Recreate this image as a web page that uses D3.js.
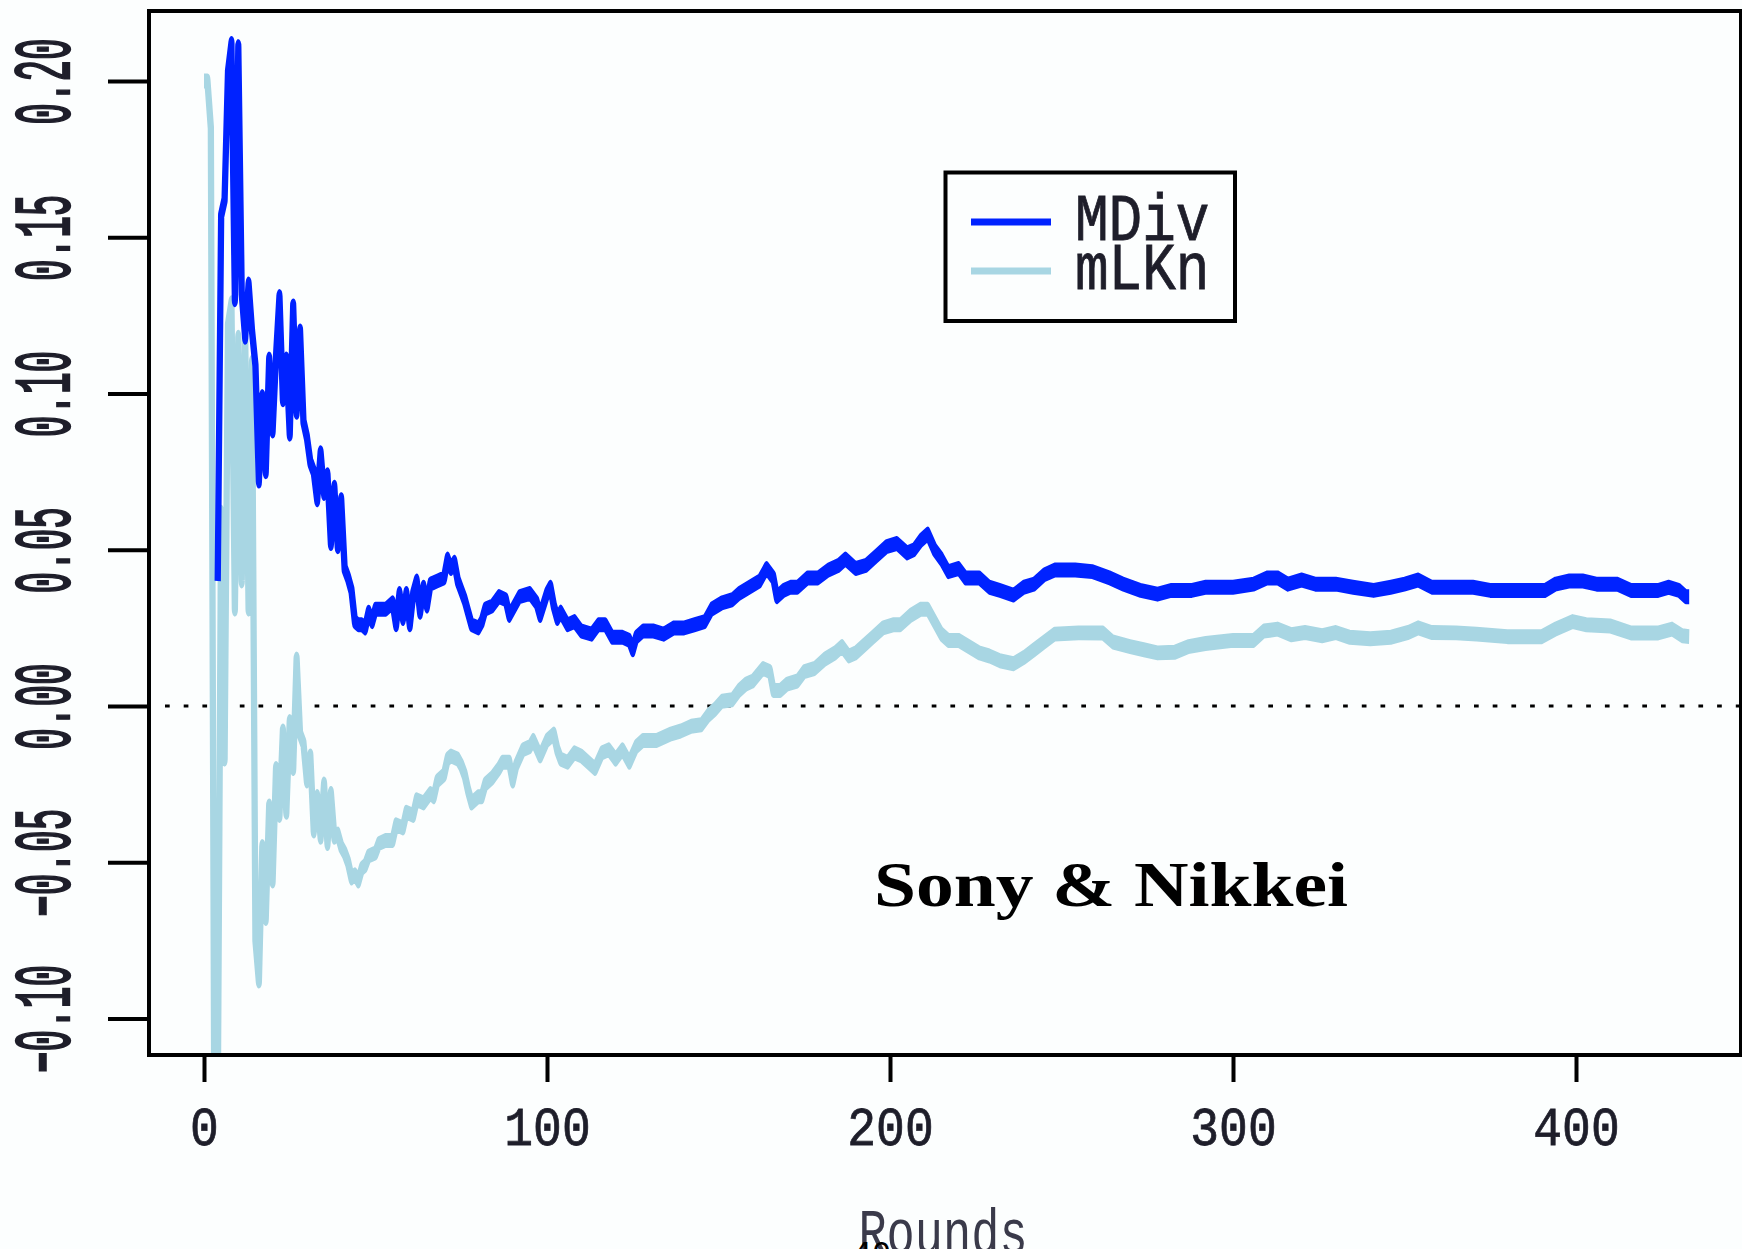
<!DOCTYPE html>
<html lang="en">

<head>
    <meta charset="UTF-8">
    <title>Sony &amp; Nikkei - MDiv vs mLKn</title>
    <script src="https://d3js.org/d3.v7.min.js"></script>
    <style>
        body {
            margin: 0;
            background: #fcfefe;
        }

        svg {
            display: block;
        }

        .mono {
            font-family: "Liberation Mono", "DejaVu Sans Mono", monospace;
            fill: #1e1e2a;
            stroke: #1e1e2a;
            stroke-width: 0.7px;
        }
    </style>
</head>

<body>
    <script>
        // values
        const mdivRounds = [4, 5, 6, 7, 8, 9, 10, 11, 12, 13, 14, 15, 16, 17, 18, 19, 20, 21, 22, 23, 24, 25, 26, 27, 28, 29,
            30, 31, 32, 33, 34, 35, 36, 37, 38, 39, 40, 41, 42, 43, 44, 45, 46, 47, 48, 49, 50, 51, 53, 55, 56, 57, 58, 59,
            60, 61, 62, 63, 64, 65, 66, 68, 70, 71, 72, 73, 74, 75, 76, 77, 78, 80, 81, 82, 84, 86, 88, 89, 90, 92, 95, 97,
            98, 100, 101, 102, 103, 104, 106, 108, 110, 113, 115, 117, 119, 122, 124, 125, 126, 128, 131, 134, 137, 140,
            143, 146, 148, 151, 154, 156, 159, 162, 164, 166, 167, 169, 171, 173, 176, 179, 182, 185, 187, 190, 193, 196,
            199, 202, 205, 207, 209, 211, 213, 215, 217, 220, 222, 226, 229, 232, 236, 239, 242, 245, 248, 254, 259, 264,
            268, 273, 278, 282, 288, 292, 300, 306, 310, 313, 316, 320, 324, 330, 335, 341, 346, 350, 354, 358, 365, 370,
            375, 385, 391, 394, 398, 402, 406, 412, 416, 424, 427, 430, 432, 433];
        const mdivValues = [0.040, 0.157, 0.162, 0.203, 0.212, 0.130, 0.211, 0.132, 0.118, 0.135, 0.120, 0.109, 0.072, 0.099,
            0.075, 0.111, 0.088, 0.112, 0.131, 0.098, 0.111, 0.087, 0.128, 0.094, 0.120, 0.091, 0.086, 0.078, 0.075, 0.066,
            0.081, 0.068, 0.074, 0.052, 0.070, 0.051, 0.066, 0.044, 0.041, 0.037, 0.027, 0.026, 0.026, 0.025, 0.030, 0.027,
            0.031, 0.031, 0.031, 0.033, 0.026, 0.036, 0.028, 0.036, 0.026, 0.036, 0.040, 0.030, 0.038, 0.032, 0.039, 0.040,
            0.041, 0.047, 0.044, 0.046, 0.040, 0.037, 0.034, 0.030, 0.026, 0.025, 0.027, 0.031, 0.032, 0.035, 0.034, 0.029,
            0.031, 0.035, 0.036, 0.033, 0.029, 0.036, 0.038, 0.032, 0.028, 0.030, 0.026, 0.027, 0.024, 0.023, 0.026, 0.026,
            0.022, 0.022, 0.021, 0.018, 0.022, 0.024, 0.024, 0.023, 0.025, 0.025, 0.026, 0.027, 0.031, 0.033, 0.034, 0.036,
            0.038, 0.040, 0.044, 0.041, 0.035, 0.037, 0.038, 0.038, 0.041, 0.041, 0.0435, 0.045, 0.047, 0.044, 0.045, 0.048,
            0.051, 0.052, 0.049, 0.050, 0.053, 0.055, 0.050, 0.047, 0.043, 0.044, 0.041, 0.041, 0.038, 0.037, 0.0355, 0.038,
            0.039, 0.042, 0.0435, 0.0435, 0.043, 0.041, 0.039, 0.037, 0.0358, 0.037, 0.037, 0.038, 0.038, 0.039, 0.041,
            0.041, 0.039, 0.0403, 0.039, 0.039, 0.038, 0.037, 0.038, 0.039, 0.0403, 0.038, 0.038, 0.038, 0.037, 0.037,
            0.037, 0.039, 0.040, 0.040, 0.039, 0.039, 0.037, 0.037, 0.038, 0.037, 0.035, 0.035];

        const mlknRounds = [0, 1, 2, 3, 4, 5, 6, 7, 8, 9, 10, 11, 12, 13, 14, 15, 16, 17, 18, 19, 20, 21, 22, 23, 24, 25, 26,
            27, 28, 29, 30, 31, 32, 33, 34, 35, 36, 37, 38, 39, 40, 41, 42, 43, 44, 45, 46, 47, 48, 50, 51, 53, 55, 56, 58,
            59, 61, 62, 64, 66, 67, 68, 70, 71, 72, 74, 75, 76, 77, 78, 80, 81, 82, 84, 86, 87, 89, 90, 91, 93, 95, 96, 98,
            100, 102, 103, 104, 106, 108, 110, 112, 114, 116, 118, 120, 122, 124, 126, 128, 132, 136, 139, 142, 145, 147,
            149, 151, 154, 156, 158, 160, 163, 165, 166, 168, 170, 173, 175, 178, 181, 184, 186, 188, 190, 192, 195, 198,
            201, 203, 206, 209, 211, 213, 215, 217, 220, 223, 226, 229, 232, 236, 239, 242, 245, 248, 255, 262, 265, 270,
            274, 278, 283, 287, 292, 300, 306, 309, 313, 317, 321, 326, 330, 334, 340, 346, 351, 354, 358, 365, 371, 380,
            390, 394, 399, 403, 410, 416, 424, 428, 431, 433];
        const mlknValues = [0.200, 0.200, 0.185, -0.130, -0.130, 0.062, -0.017, 0.122, 0.129, 0.031, 0.118, 0.040, 0.119,
            0.031, 0.110, -0.075, -0.088, -0.045, -0.068, -0.032, -0.056, -0.020, -0.035, -0.008, -0.034, -0.005, -0.020,
            0.015, -0.009, -0.012, -0.024, -0.016, -0.040, -0.029, -0.042, -0.025, -0.044, -0.028, -0.042, -0.041, -0.045,
            -0.047, -0.050, -0.055, -0.054, -0.056, -0.052, -0.051, -0.048, -0.047, -0.044, -0.043, -0.043, -0.038, -0.039,
            -0.034, -0.035, -0.030, -0.031, -0.028, -0.029, -0.024, -0.022, -0.017, -0.016, -0.017, -0.019, -0.022, -0.027,
            -0.031, -0.029, -0.029, -0.025, -0.023, -0.020, -0.018, -0.018, -0.024, -0.019, -0.014, -0.013, -0.011, -0.016,
            -0.011, -0.009, -0.014, -0.017, -0.018, -0.015, -0.016, -0.018, -0.020, -0.015, -0.014, -0.017, -0.014, -0.018,
            -0.013, -0.011, -0.011, -0.009, -0.008, -0.0065, -0.006, -0.003, -0.001, 0.0015, 0.002, 0.005, 0.007, 0.008,
            0.012, 0.011, 0.005, 0.005, 0.007, 0.008, 0.011, 0.012, 0.015, 0.017, 0.019, 0.016, 0.017, 0.019, 0.022, 0.025,
            0.026, 0.026, 0.029, 0.031, 0.031, 0.027, 0.023, 0.021, 0.021, 0.019, 0.017, 0.016, 0.0145, 0.0135, 0.0155,
            0.018, 0.0205, 0.023, 0.0234, 0.0234, 0.0205, 0.019, 0.018, 0.017, 0.0172, 0.019, 0.020, 0.021, 0.021, 0.024,
            0.0246, 0.0228, 0.0235, 0.0225, 0.0235, 0.022, 0.0215, 0.022, 0.0235, 0.025, 0.0235, 0.0234, 0.023, 0.0222,
            0.0222, 0.0246, 0.027, 0.026, 0.0256, 0.0234, 0.0234, 0.0246, 0.0225, 0.0222];

        const xTicks = [0, 100, 200, 300, 400];
        const yTicks = [-0.10, -0.05, 0.00, 0.05, 0.10, 0.15, 0.20];
        const seriesNames = ["MDiv", "mLKn"];
        const seriesColors = ["#0022ff", "#a8d6e3"];

        const width = 1742, height = 1249;
        const box = { left: 149, top: 11, right: 1741, bottom: 1055 };

        const x = d3.scaleLinear().domain([0, 400]).range([204, 1576]);
        const y = d3.scaleLinear().domain([-0.1, 0.2]).range([1018.5, 81]);

        const svg = d3.select("body").append("svg")
            .attr("width", width)
            .attr("height", height);

        svg.append("rect")
            .attr("width", width).attr("height", height)
            .attr("fill", "#fcfefe");

        svg.append("clipPath").attr("id", "plotClip")
            .append("rect")
            .attr("x", box.left).attr("y", box.top)
            .attr("width", box.right - box.left).attr("height", box.bottom - box.top);

        // zero reference line (dotted)
        svg.append("line")
            .attr("x1", 165).attr("x2", box.right)
            .attr("y1", y(0)).attr("y2", y(0))
            .attr("stroke", "#000")
            .attr("stroke-width", 3)
            .attr("stroke-dasharray", "4.7,14");

        // the picture is stretched: strokes are thin sideways and thick up/down,
        // so lines are drawn inside a group squeezed horizontally
        const sx = 0.42;
        const lineGen = d3.line()
            .x(d => x(d[0]) / sx)
            .y(d => y(d[1]));

        const plot = svg.append("g").attr("clip-path", "url(#plotClip)")
            .append("g").attr("transform", `scale(${sx},1)`);

        const mlkn = mlknRounds.map((r, i) => [r, mlknValues[i]]);
        const mdiv = mdivRounds.map((r, i) => [r, mdivValues[i]]);

        [[mlkn, seriesColors[1]], [mdiv, seriesColors[0]]].forEach(([data, col]) => {
            plot.append("path")
                .datum(data)
                .attr("d", lineGen)
                .attr("fill", "none")
                .attr("stroke", col)
                .attr("stroke-width", 15)
                .attr("stroke-linejoin", "round");
        });

        // frame
        svg.append("rect")
            .attr("x", box.left).attr("y", box.top)
            .attr("width", box.right - box.left).attr("height", box.bottom - box.top)
            .attr("fill", "none")
            .attr("stroke", "#000")
            .attr("stroke-width", 4);

        // y axis
        const yAxis = svg.append("g")
            .attr("transform", `translate(${box.left},0)`)
            .call(d3.axisLeft(y).tickValues(yTicks).tickSize(41).tickFormat(d3.format(".2f")));
        yAxis.select(".domain").remove();
        yAxis.selectAll(".tick line").attr("stroke", "#000").attr("stroke-width", 4);
        yAxis.selectAll(".tick text")
            .attr("class", "mono")
            .attr("x", null).attr("dy", "0.32em")
            .attr("font-size", 36)
            .attr("text-anchor", "middle")
            .style("stroke-width", "1.1px")
            .attr("transform", `translate(${44 - box.left},0) rotate(-90) scale(1,2.2)`);

        // x axis
        const xAxis = svg.append("g")
            .attr("transform", `translate(0,${box.bottom})`)
            .call(d3.axisBottom(x).tickValues(xTicks).tickSize(27).tickFormat(d3.format("d")));
        xAxis.select(".domain").remove();
        xAxis.selectAll(".tick line").attr("stroke", "#000").attr("stroke-width", 4);
        xAxis.selectAll(".tick text")
            .attr("class", "mono")
            .attr("y", null).attr("dy", null)
            .attr("font-size", 48)
            .attr("transform", "translate(0,90) scale(1,1.1)");

        // axis title, cut off at the bottom edge
        svg.append("text")
            .attr("class", "mono")
            .attr("font-size", 47)
            .attr("text-anchor", "middle")
            .style("fill", "#3a3a4a")
            .style("stroke", "none")
            .attr("transform", "translate(943,1253) scale(1,1.35)")
            .text("Rounds");
        svg.append("text")
            .attr("x", 853).attr("y", 1264)
            .attr("font-family", "DejaVu Sans")
            .attr("font-size", 30)
            .attr("fill", "#000")
            .text("40");

        // legend
        const legend = svg.append("g");
        legend.append("rect")
            .attr("x", 945.5).attr("y", 172.5)
            .attr("width", 289.5).attr("height", 148.5)
            .attr("fill", "none")
            .attr("stroke", "#000")
            .attr("stroke-width", 4);
        seriesNames.forEach((name, i) => {
            const ly = 222 + i * 49;
            legend.append("line")
                .attr("x1", 971).attr("x2", 1051)
                .attr("y1", ly).attr("y2", ly)
                .attr("stroke", seriesColors[i])
                .attr("stroke-width", 7);
            legend.append("text")
                .attr("class", "mono")
                .attr("font-size", 56)
                .attr("transform", `translate(1075,${ly + 18}) scale(1,1.19)`)
                .text(name);
        });

        // panel label
        svg.append("text")
            .attr("x", 874).attr("y", 906)
            .attr("font-family", "Liberation Serif")
            .attr("font-weight", "bold")
            .attr("font-size", 64)
            .attr("textLength", 474)
            .attr("lengthAdjust", "spacingAndGlyphs")
            .attr("fill", "#000")
            .text("Sony & Nikkei");
    </script>
</body>

</html>
